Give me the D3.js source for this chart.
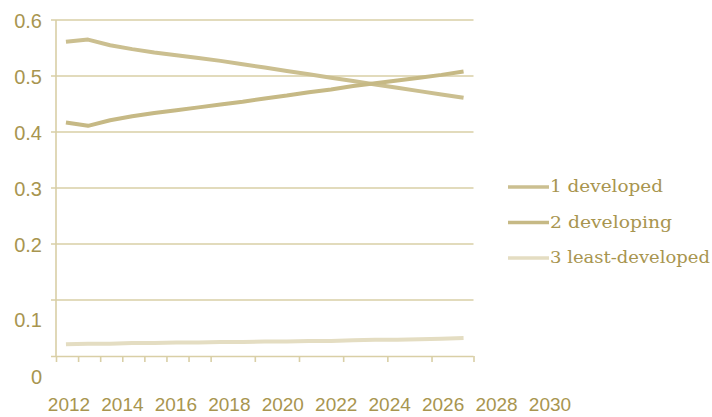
<!DOCTYPE html>
<html><head><meta charset="utf-8">
<script src="https://cdn.jsdelivr.net/npm/d3@7"></script>
<style>body{margin:0;background:#fff}svg{display:block}</style>
</head><body><svg id="c" width="712" height="417"></svg>
<script>
const years = [2012,2013,2014,2015,2016,2017,2018,2019,2020,2021,2022,2023,2024,2025,2026,2027,2028,2029,2030];
const developed  = [0.561,0.565,0.555,0.548,0.542,0.537,0.532,0.527,0.521,0.515,0.509,0.503,0.497,0.491,0.485,0.479,0.473,0.467,0.461];
const developing = [0.417,0.411,0.421,0.428,0.434,0.439,0.444,0.449,0.454,0.460,0.465,0.471,0.476,0.482,0.487,0.492,0.497,0.502,0.508];
const leastDeveloped = [0.021,0.022,0.022,0.023,0.023,0.024,0.024,0.025,0.025,0.026,0.026,0.027,0.027,0.028,0.029,0.029,0.030,0.031,0.032];
const seriesNames = ["1 developed","2 developing","3 least-developed"];
const yTickValues = [0,0.1,0.2,0.3,0.4,0.5,0.6];
const yTickLabels = ["0","0.1","0.2","0.3","0.4","0.5","0.6"];
const xTickLabels = ["2012","2014","2016","2018","2020","2022","2024","2026","2028","2030"];
const xTickMarks = [2011.55,2012.55,2013.55,2014.55,2015.55,2016.55,2017.55,2018.55,2020.55,2022.55,2024.55,2026.55,2028.55,2030.45];

const gridCol = "#d9cfa6", textCol = "#a8954f";
const lineCols = ["#cbbf90","#c6b985","#e4ddc2"];
const legendWidths = [113, 122, 160];

const svg = d3.select("#c");
const x = d3.scaleLinear().domain([2011.55, 2030.45]).range([56, 473.5]);
const y = d3.scaleLinear().domain([0, 0.6]).range([356, 20]);
// label positions as placed in the source image
const yLab = d3.scaleLinear().domain([0, 0.1, 0.2, 0.6]).range([377, 320, 245, 21]);
const xLab = d3.scalePoint().domain(xTickLabels).range([69, 550]);

const sansFont = "'Liberation Sans Narrow', 'Liberation Sans', Arial, sans-serif";

// gridlines
svg.append("g").selectAll("line").data(yTickValues.filter(v => v > 0)).join("line")
  .attr("x1", 51).attr("x2", 473.5).attr("y1", d => y(d)).attr("y2", d => y(d))
  .attr("stroke", gridCol).attr("stroke-width", 1.6);

// y axis line
svg.append("line").attr("x1", 56).attr("x2", 56).attr("y1", y(0.6)).attr("y2", y(0))
  .attr("stroke", gridCol).attr("stroke-width", 1.6);

// x axis
const xa = svg.append("g").attr("transform", `translate(0,${y(0)})`)
  .call(d3.axisBottom(x).tickValues(xTickMarks).tickFormat("").tickSize(6).tickSizeOuter(0));
xa.select(".domain").attr("stroke", gridCol).attr("stroke-width", 1.6).attr("d", `M51,0.5H${x(2030.45)}`);
xa.selectAll(".tick line").attr("stroke", gridCol).attr("stroke-width", 1.6);

// y labels
svg.append("g").selectAll("text").data(yTickValues).join("text")
  .attr("x", 42).attr("y", d => yLab(d)).attr("dy", "0.35em").attr("text-anchor", "end")
  .attr("font-family", sansFont).attr("font-size", 20)
  .attr("fill", textCol).text((d, i) => yTickLabels[i]);

// x labels
svg.append("g").selectAll("text").data(xTickLabels).join("text")
  .attr("x", d => xLab(d)).attr("y", 404).attr("dy", "0.35em").attr("text-anchor", "middle")
  .attr("font-family", sansFont).attr("font-size", 19)
  .attr("fill", textCol).text(d => d);

// lines
const allSeries = [developed, developing, leastDeveloped];
const line = d3.line().x((d, i) => x(years[i])).y(d => y(d));
svg.append("g").selectAll("path").data(allSeries).join("path")
  .attr("d", d => line(d)).attr("fill", "none")
  .attr("stroke", (d, i) => lineCols[i]).attr("stroke-width", 4)
  .attr("stroke-linejoin", "round");

// legend
const lg = svg.append("g").selectAll("g").data(seriesNames).join("g")
  .attr("transform", (d, i) => `translate(508,${187 + i * 35.5})`);
lg.append("line").attr("x1", 0).attr("x2", 41).attr("y1", 0).attr("y2", 0)
  .attr("stroke", (d, i) => lineCols[i]).attr("stroke-width", 3.5);
lg.append("text").attr("x", 42).attr("y", 0).attr("dy", "0.32em")
  .attr("textLength", (d, i) => legendWidths[i]).attr("lengthAdjust", "spacingAndGlyphs")
  .attr("font-family", "'DejaVu Serif', 'Liberation Serif', serif").attr("font-size", 17)
  .attr("fill", textCol).text(d => d);
</script></body></html>
